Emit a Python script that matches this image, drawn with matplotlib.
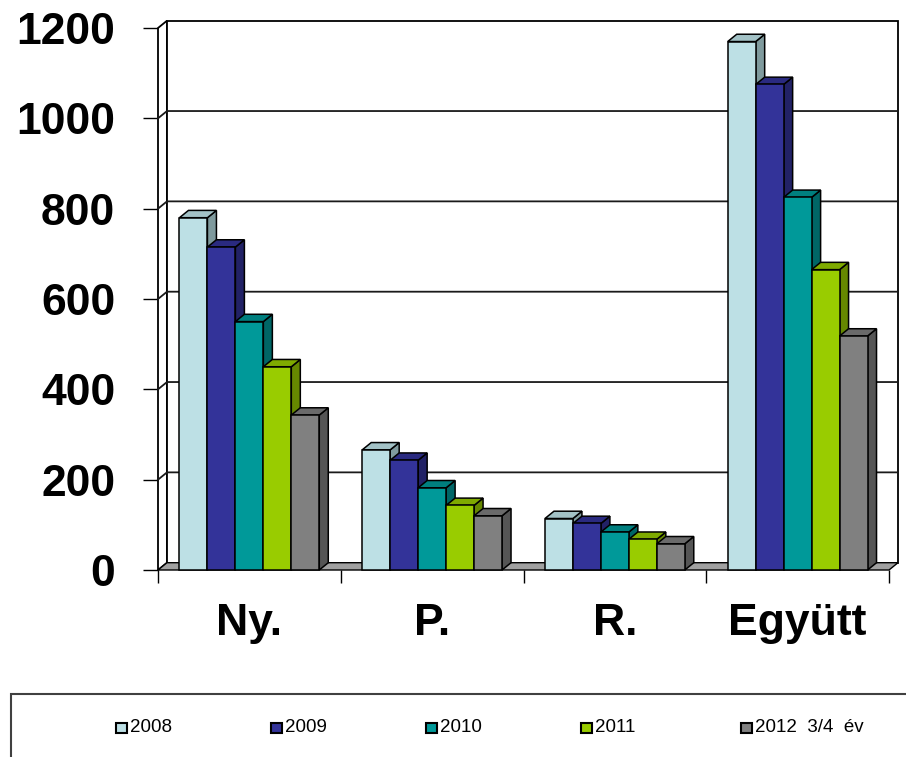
import matplotlib
matplotlib.use('Agg')
import matplotlib.pyplot as plt
from matplotlib.patches import Rectangle
import numpy as np

plt.rcParams['font.family'] = ['Liberation Sans', 'DejaVu Sans']

categories = ['Ny.', 'P.', 'R.', 'Együtt']
series = ['2008', '2009', '2010', '2011', '2012  3/4  év']
v2008 = [780, 266, 114, 1170]
v2009 = [715, 243, 103, 1075]
v2010 = [550, 182, 84, 825]
v2011 = [450, 143, 68, 665]
v2012 = [343, 120, 58, 518]
values = [v2008, v2009, v2010, v2011, v2012]
yticks = [0, 200, 400, 600, 800, 1000, 1200]

front = ['#BDE0E5', '#333399', '#009999', '#99CC00', '#808080']
top = ['#A3C2C6', '#2A2A80', '#007F7F', '#7FAA00', '#6A6A6A']
side = ['#7F9A9D', '#222266', '#006666', '#668800', '#555555']

W, H = 906, 757
fig = plt.figure(figsize=(W / 100, H / 100), dpi=100)
# front plane of the 3d box in pixels
x0, x1, yb, yt = 158, 889, 570, 28
ax = fig.add_axes([x0 / W, 1 - yb / H, (x1 - x0) / W, (yb - yt) / H])
ncat = len(categories)
ax.set_xlim(0, ncat)
ax.set_ylim(0, 1200)

# depth offset in data units (9 px right, 7.3 px up)
dx = 9 / ((x1 - x0) / ncat)
dy = 7.3 / ((yb - yt) / 1200)
ymax = yticks[-1]

# side wall + back wall
ax.fill([0, dx, dx, 0], [0, dy, ymax + dy, ymax], facecolor='white',
        edgecolor='black', lw=1.3, zorder=1, clip_on=False)
ax.fill([dx, ncat + dx, ncat + dx, dx], [dy, dy, ymax + dy, ymax + dy],
        facecolor='white', edgecolor='black', lw=1.3, zorder=1, clip_on=False)
for v in yticks[1:-1]:
    ax.plot([0, dx, ncat + dx], [v, v + dy, v + dy], color='#1a1a1a', lw=1.3,
            zorder=2, clip_on=False)
# floor
ax.fill([0, ncat, ncat + dx, dx], [0, 0, dy, dy], facecolor='#A0A0A0',
        edgecolor='black', lw=1.0, zorder=2, clip_on=False)

w = 0.153
xc = np.arange(ncat) + 0.5
z = 3
for j in range(ncat):
    for i, vals in enumerate(values):
        l = xc[j] + (i - 2) * w - w / 2
        r = l + w
        h = vals[j]
        ax.fill([r, r + dx, r + dx, r], [0, dy, h + dy, h], facecolor=side[i],
                edgecolor='black', lw=1.1, zorder=z, clip_on=False)
        ax.fill([l, r, r + dx, l + dx], [h, h, h + dy, h + dy], facecolor=top[i],
                edgecolor='black', lw=1.1, zorder=z, clip_on=False)
        ax.bar(l, h, width=w, align='edge', color=front[i], edgecolor='black',
               lw=1.1, zorder=z + 0.5, clip_on=False)
        z += 1

for s in ax.spines.values():
    s.set_visible(False)
ax.set_yticks(yticks)
ax.set_yticklabels([str(t) for t in yticks], fontsize=32, fontweight='bold')
ax.tick_params(axis='y', length=10.8, width=1.0, pad=20)
ax.set_xticks(xc)
ax.set_xticklabels(categories, fontsize=32, fontweight='bold')
ax.set_xticks(np.arange(ncat + 1), minor=True)
ax.tick_params(axis='x', which='major', length=0, pad=24)
ax.tick_params(axis='x', which='minor', length=9.4, width=1.0)
ax.patch.set_visible(False)

# legend box
fig.patches.append(Rectangle((11 / W, -0.1), 1.0, 1 - 694 / H + 0.1,
                             transform=fig.transFigure, fill=False,
                             edgecolor='#404040', lw=1.5))
lx = [116, 271, 426, 581, 741]
for i, name in enumerate(series):
    fig.patches.append(Rectangle((lx[i] / W, 1 - 733 / H), 11 / W, 10 / H,
                                 transform=fig.transFigure, facecolor=front[i],
                                 edgecolor='black', lw=1.5))
    fig.text((lx[i] + 14) / W, 1 - 728 / H, name, fontsize=13.5,
             va='center', ha='left', color='black')

plt.savefig('out.png', dpi=100)
